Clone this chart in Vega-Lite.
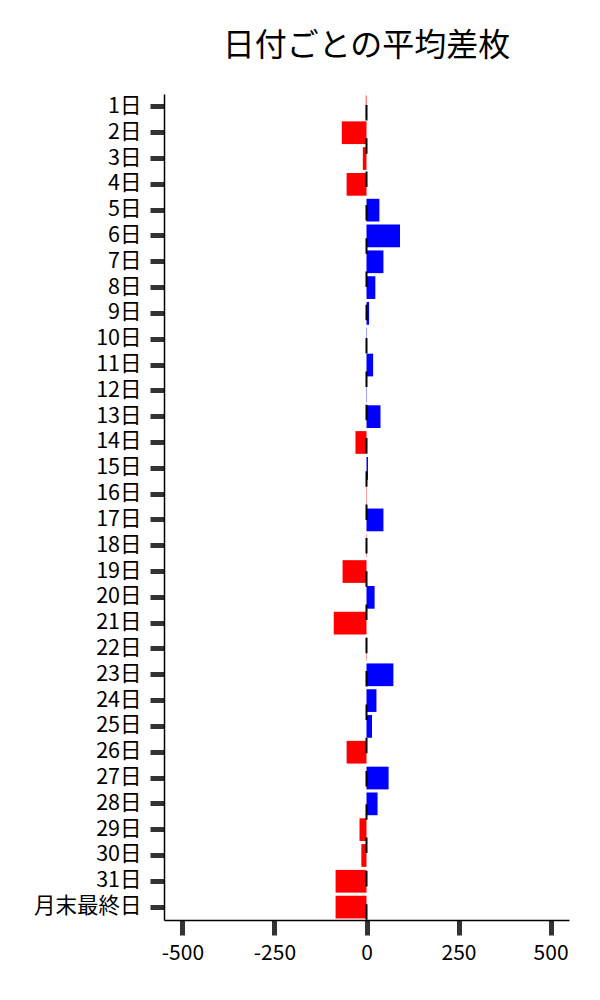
{
  "$schema": "https://vega.github.io/schema/vega-lite/v6.json",
  "autosize": {"type": "none"},
  "padding": {"left": 164, "top": 94, "right": 31, "bottom": 80},
  "width": 405,
  "height": 826,
  "background": "white",
  "config": {
    "font": "Noto Sans CJK JP",
    "view": {"stroke": null}
  },
  "title": {
    "text": "日付ごとの平均差枚",
    "fontSize": 32,
    "fontWeight": "normal",
    "font": "Noto Sans CJK JP",
    "color": "black",
    "anchor": "middle",
    "offset": 30
  },
  "data": {
    "values": [
      {"day": "1日", "value": -2},
      {"day": "2日", "value": -67},
      {"day": "3日", "value": -10},
      {"day": "4日", "value": -54},
      {"day": "5日", "value": 35},
      {"day": "6日", "value": 91},
      {"day": "7日", "value": 46},
      {"day": "8日", "value": 24},
      {"day": "9日", "value": 7},
      {"day": "10日", "value": 1},
      {"day": "11日", "value": 18},
      {"day": "12日", "value": 1},
      {"day": "13日", "value": 38},
      {"day": "14日", "value": -30},
      {"day": "15日", "value": 4},
      {"day": "16日", "value": -1},
      {"day": "17日", "value": 46},
      {"day": "18日", "value": -1},
      {"day": "19日", "value": -65},
      {"day": "20日", "value": 22},
      {"day": "21日", "value": -89},
      {"day": "22日", "value": -1},
      {"day": "23日", "value": 73},
      {"day": "24日", "value": 27},
      {"day": "25日", "value": 15},
      {"day": "26日", "value": -54},
      {"day": "27日", "value": 60},
      {"day": "28日", "value": 30},
      {"day": "29日", "value": -19},
      {"day": "30日", "value": -14},
      {"day": "31日", "value": -84},
      {"day": "月末最終日", "value": -84}
    ]
  },
  "layer": [
    {
      "mark": {"type": "bar"},
      "encoding": {
        "y": {
          "field": "day",
          "type": "nominal",
          "sort": null,
          "scale": {"paddingInner": 0.12, "paddingOuter": 0.06},
          "axis": {
            "title": null,
            "labelFontSize": 21.5,
            "labelColor": "black",
            "labelPadding": 9,
            "tickSize": 14,
            "tickWidth": 5,
            "tickColor": "#333333",
            "domainColor": "black",
            "domainWidth": 1.5,
            "grid": false
          }
        },
        "x": {
          "field": "value",
          "type": "quantitative",
          "scale": {"domain": [-550, 550], "nice": false, "zero": false},
          "axis": {
            "title": null,
            "values": [-500, -250, 0, 250, 500],
            "labelExpr": "'' + datum.value",
            "labelFontSize": 21,
            "labelColor": "black",
            "labelPadding": 7,
            "tickSize": 15,
            "tickWidth": 5,
            "tickColor": "#333333",
            "domainColor": "black",
            "domainWidth": 1.5,
            "grid": false
          }
        },
        "color": {
          "condition": {"test": "datum.value < 0", "value": "#ff0000"},
          "value": "#0000ff"
        }
      }
    },
    {
      "data": {"values": [{"zero": 0}]},
      "mark": {
        "type": "rule",
        "color": "black",
        "strokeWidth": 2,
        "strokeDash": [15.5, 17.8],
        "strokeDashOffset": 22.3
      },
      "encoding": {
        "x": {"field": "zero", "type": "quantitative"}
      }
    }
  ]
}
